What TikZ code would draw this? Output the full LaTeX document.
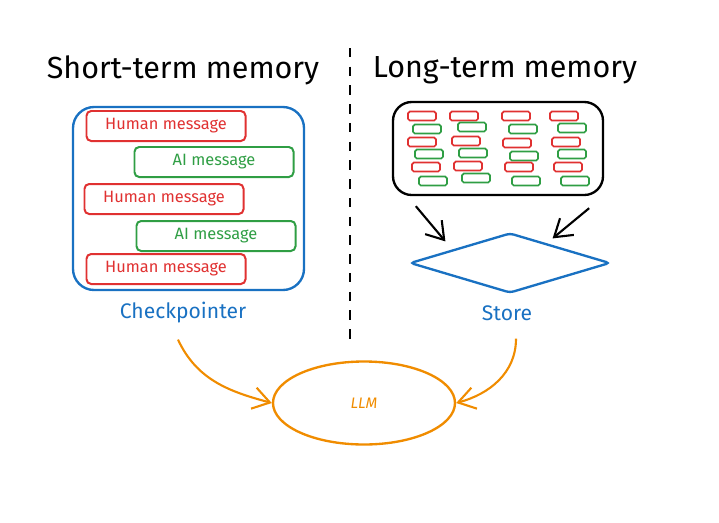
\documentclass[tikz,border=0pt]{standalone}
\usepackage{fontspec}
\setmainfont{Fira Sans}
\usetikzlibrary{shapes.geometric,arrows.meta}
\definecolor{xred}{HTML}{E03131}
\definecolor{xgreen}{HTML}{2F9E44}
\definecolor{xblue}{HTML}{1971C2}
\definecolor{xorange}{HTML}{F08C00}

\begin{document}
\begin{tikzpicture}[x=0.03cm,y=-0.03cm]
\tikzstyle{msg}=[draw,rounded corners=4pt,line width=1.7pt,minimum width=4.77cm,minimum height=0.9cm,font=\fontsize{14}{16}\selectfont]
\tikzstyle{human}=[msg,draw=xred,text=xred]
\tikzstyle{ai}=[msg,draw=xgreen,text=xgreen]
\tikzstyle{rb}=[draw=xred,line width=1.5pt,rounded corners=1.5pt,minimum width=0.84cm,minimum height=0.27cm,inner sep=0pt]
\tikzstyle{gb}=[rb,draw=xgreen]
\tikzstyle{title}=[font=\fontsize{26}{30}\selectfont]
\tikzstyle{lbl}=[text=xblue,font=\fontsize{18}{21}\selectfont]
\tikzstyle{sketch}=[-{Straight Barb[length=5mm,width=6.5mm]},line width=1.8pt]
\useasboundingbox (0,0) rectangle (719,522);

\path (183,70) node[title](st){Short-term memory} (505,70) node[title](lt){Long-term memory};
\coordinate (septop) at (350,48);
\coordinate (sepbot) at (350,345);
\draw[dash pattern=on 8pt off 8pt,line width=1.5pt] (septop) -- (sepbot);

\path (188.5,198.5) node[draw=xblue,line width=2pt,rounded corners=18pt,minimum width=6.93cm,minimum height=5.49cm](cbox){};
\path (166,126) node[human](h1){Human message};
\path (214,162) node[ai](a1){AI message};
\path (164,199) node[human](h2){Human message};
\path (216,236) node[ai](a2){AI message};
\path (166,269) node[human](h3){Human message};
\path (183,313) node[lbl](cp){Checkpointer};

\path (498,148.5) node[draw,line width=2pt,rounded corners=16pt,minimum width=6.3cm,minimum height=2.79cm](mem){};
\path (422,116) node[rb](r11){} (464,116) node[rb](r12){} (516,116) node[rb](r13){} (564,116) node[rb](r14){};
\path (427,129) node[gb](g11){} (472,127) node[gb](g12){} (523,129) node[gb](g13){} (572,128) node[gb](g14){};
\path (422,142) node[rb](r21){} (466,141) node[rb](r22){} (517,143) node[rb](r23){} (566,142) node[rb](r24){};
\path (429,154) node[gb](g21){} (473,153) node[gb](g22){} (524,156) node[gb](g23){} (572,154) node[gb](g24){};
\path (426,167) node[rb](r31){} (468,166) node[rb](r32){} (519,167) node[rb](r33){} (568,167) node[rb](r34){};
\path (433,181) node[gb](g31){} (476,178) node[gb](g32){} (526,181) node[gb](g33){} (575,181) node[gb](g34){};

\path (510,263) node[diamond,draw=xblue,line width=2pt,rounded corners=3pt,inner sep=0pt,minimum width=6cm,minimum height=1.8cm](store){};
\path (507,313) node[lbl](stl){Store};
\draw[sketch] ([shift={(24,10)}]mem.south west) -- ([shift={(-14,-6)}]store.north west);
\draw[sketch] ([shift={(-15,12)}]mem.south east) -- ([shift={(-8,-9)}]store.north east);

\path (364,403) node[ellipse,draw=xorange,line width=2pt,minimum width=5.46cm,minimum height=2.49cm,text=xorange,font=\itshape\fontsize{13}{15}\selectfont](llm){LLM};
\draw[sketch,xorange] ([shift={(-5,12)}]cp.south) to[out=-65,in=165] (llm.west);
\draw[sketch,xorange] ([shift={(9,14)}]stl.south) to[out=-90,in=15] (llm.east);
\end{tikzpicture}
\end{document}
